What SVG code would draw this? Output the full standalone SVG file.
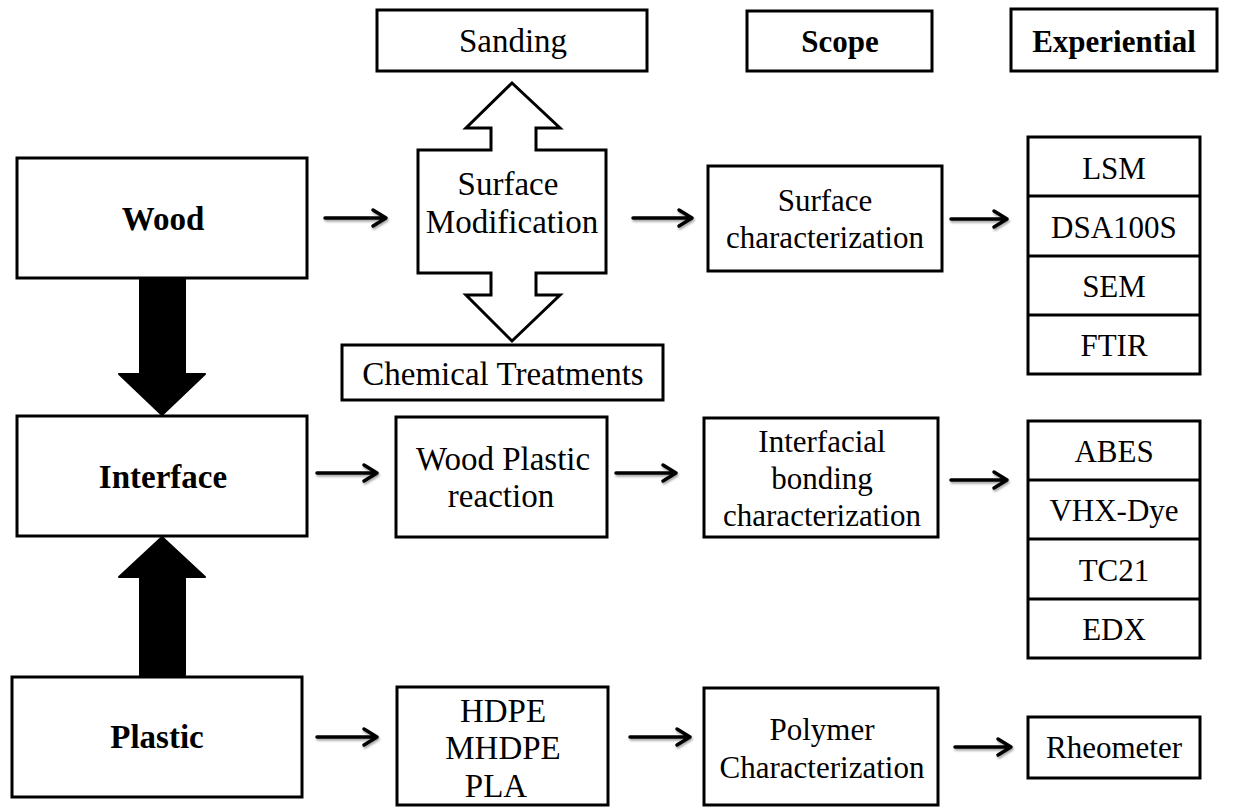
<svg xmlns="http://www.w3.org/2000/svg" width="1255" height="808" viewBox="0 0 1255 808">
<style>
.box{fill:#fff;stroke:#000;stroke-width:3}
.t{font-family:"Liberation Serif","Times New Roman",serif;font-size:31px;fill:#000;text-anchor:middle}
.l{font-size:33px}
.b{font-weight:bold}
.con{fill:none;stroke:#000;stroke-width:3.5;stroke-linecap:round;stroke-linejoin:round}
.big{fill:#000;stroke:#000;stroke-width:2;stroke-linejoin:round}
</style>
<defs>
<filter id="sh" x="-20%" y="-50%" width="140%" height="200%">
<feDropShadow dx="1" dy="2" stdDeviation="1.2" flood-color="#000" flood-opacity="0.35"/>
</filter>
</defs>
<rect width="1255" height="808" fill="#fff"/>

<g id="connectors">
<g filter="url(#sh)">
<path class="con" d="M325,218 H386 M373,210 L386,218 L373,226"/>
<path class="con" d="M633,218 H692 M679,210 L692,218 L679,226"/>
<path class="con" d="M951,219 H1007 M994,211 L1007,219 L994,227"/>
<path class="con" d="M317,473 H377 M364,465 L377,473 L364,481"/>
<path class="con" d="M616,473 H676 M663,465 L676,473 L663,481"/>
<path class="con" d="M951,480 H1007 M994,472 L1007,480 L994,488"/>
<path class="con" d="M317,737 H377 M364,729 L377,737 L364,745"/>
<path class="con" d="M630,737 H690 M677,729 L690,737 L677,745"/>
<path class="con" d="M955,747 H1011 M998,739 L1011,747 L998,755"/>
</g>
<path id="wood-to-interface" class="big" d="M140,278 H185 V374 H205 L162,415 L119,374 H140 Z"/>
<path id="plastic-to-interface" class="big" d="M140,675 V577 H119 L162,537 L205,577 H185 V675 Z"/>
</g>

<g id="sanding"><rect class="box" x="377" y="10" width="270" height="61"/><text class="t l" x="513" y="52">Sanding</text></g>
<g id="scope"><rect class="box" x="747" y="11" width="185" height="60"/><text class="t b" x="840" y="52">Scope</text></g>
<g id="experiential"><rect class="box" x="1011" y="9" width="206" height="62"/><text class="t b" x="1114" y="52">Experiential</text></g>

<g id="wood"><rect class="box" x="17" y="158" width="290" height="120"/><text class="t b l" x="163" y="230">Wood</text></g>
<g id="interface"><rect class="box" x="17" y="416" width="290" height="120"/><text class="t b l" x="163" y="488">Interface</text></g>
<g id="plastic"><rect class="box" x="12" y="677" width="290" height="120"/><text class="t b l" x="157" y="748">Plastic</text></g>

<g id="surface-modification">
<path class="box" d="M512,83 L560,128 H536 V150 H606 V273 H536 V295 H560 L512,341 L466,295 H491 V273 H418 V150 H491 V128 H466 Z"/>
<text class="t l" x="508" y="195">Surface</text>
<text class="t l" x="512" y="233">Modification</text>
</g>
<g id="chemical-treatments"><rect class="box" x="342" y="345" width="321" height="55"/><text class="t l" x="503" y="385">Chemical Treatments</text></g>

<g id="surface-characterization"><rect class="box" x="708" y="166" width="234" height="105"/>
<text class="t" x="825" y="211">Surface</text><text class="t" x="825" y="248">characterization</text></g>

<g id="wood-plastic-reaction"><rect class="box" x="396" y="417" width="211" height="120"/>
<text class="t l" x="503" y="470">Wood Plastic</text><text class="t l" x="501" y="507">reaction</text></g>

<g id="interfacial-bonding"><rect class="box" x="704" y="418" width="234" height="119"/>
<text class="t" x="822" y="452">Interfacial</text><text class="t" x="822" y="489">bonding</text><text class="t" x="822" y="526">characterization</text></g>

<g id="polymers"><rect class="box" x="397" y="687" width="211" height="118"/>
<text class="t l" x="503" y="722">HDPE</text><text class="t l" x="503" y="759">MHDPE</text><text class="t l" x="496" y="797">PLA</text></g>

<g id="polymer-characterization"><rect class="box" x="704" y="688" width="234" height="117"/>
<text class="t" x="822" y="740">Polymer</text><text class="t" x="822" y="778">Characterization</text></g>

<g id="surface-methods">
<rect class="box" x="1028" y="137" width="172" height="237"/>
<path class="box" d="M1028,196 H1200 M1028,256 H1200 M1028,315 H1200"/>
<text class="t" x="1114" y="179">LSM</text>
<text class="t" x="1114" y="238">DSA100S</text>
<text class="t" x="1114" y="297">SEM</text>
<text class="t" x="1114" y="356">FTIR</text>
</g>

<g id="interface-methods">
<rect class="box" x="1028" y="421" width="172" height="237"/>
<path class="box" d="M1028,480 H1200 M1028,539 H1200 M1028,599 H1200"/>
<text class="t" x="1114" y="462">ABES</text>
<text class="t" x="1114" y="521">VHX-Dye</text>
<text class="t" x="1114" y="581">TC21</text>
<text class="t" x="1114" y="640">EDX</text>
</g>

<g id="rheometer"><rect class="box" x="1028" y="717" width="172" height="61"/><text class="t" x="1114" y="758">Rheometer</text></g>
</svg>
